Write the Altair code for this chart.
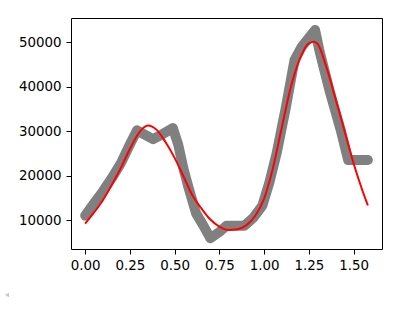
import altair as alt
import pandas as pd

# Gray (observed) path vertices
obs_x = [0.00, 0.05, 0.10, 0.15, 0.20, 0.25, 0.29, 0.33, 0.38, 0.43, 0.49, 0.52, 0.55,
         0.58, 0.62, 0.66, 0.70, 0.75, 0.79, 0.89, 0.94, 0.99, 1.03, 1.07, 1.12, 1.17,
         1.21, 1.24, 1.285, 1.31, 1.37, 1.43, 1.47, 1.58]
obs_y = [11000, 13800, 16500, 19500, 22800, 27000, 30200, 29300, 28200, 29300, 30700, 27000, 21500,
         17000, 11500, 8800, 5900, 7300, 8700, 8700, 10500, 13200, 18500, 25000, 35000, 46000,
         49000, 50500, 52800, 48000, 38500, 30000, 23500, 23500]

# Red (fitted) curve readings
fit_x = [0.00, 0.05, 0.10, 0.15, 0.20, 0.25, 0.30, 0.35, 0.40, 0.45, 0.50, 0.55, 0.60,
         0.65, 0.70, 0.75, 0.80, 0.85, 0.90, 0.95, 1.00, 1.05, 1.10, 1.15, 1.20, 1.25,
         1.28, 1.30, 1.35, 1.40, 1.45, 1.50, 1.55, 1.58]
fit_y = [9200, 11700, 14500, 18000, 21800, 26000, 29600, 31300, 30300, 27500, 24000, 19800, 15500,
         12600, 10100, 8500, 7750, 7900, 8800, 10900, 14800, 21800, 31000, 40000, 46300, 49800,
         50150, 49600, 44200, 37200, 30000, 22800, 16600, 13300]

x_ticks = [0.0, 0.25, 0.5, 0.75, 1.0, 1.25, 1.5]
y_ticks = [10000, 20000, 30000, 40000, 50000]

obs = pd.DataFrame({"x": obs_x, "y": obs_y})
fit = pd.DataFrame({"x": fit_x, "y": fit_y})

FONT = "DejaVu Sans"

xs = alt.Scale(domain=[-0.079, 1.659], nice=False, zero=False)
ys = alt.Scale(domain=[3470, 55500], nice=False, zero=False)

xax = alt.Axis(values=x_ticks, format=".2f", title=None, grid=False, domain=False,
               tickColor="black", tickSize=5, tickWidth=1, labelColor="black",
               labelFont=FONT, labelFontSize=13.4, labelPadding=4)
yax = alt.Axis(values=y_ticks, format="d", title=None, grid=False, domain=False,
               tickColor="black", tickSize=5, tickWidth=1, labelColor="black",
               labelFont=FONT, labelFontSize=13.4, labelPadding=5)

gray = alt.Chart(obs).mark_line(color="#808080", strokeWidth=10, strokeCap="round",
                                strokeJoin="round").encode(
    x=alt.X("x:Q", scale=xs, axis=xax),
    y=alt.Y("y:Q", scale=ys, axis=yax),
)

red = alt.Chart(fit).mark_line(color="#ff0000", strokeWidth=2, interpolate="monotone").encode(
    x=alt.X("x:Q", scale=xs),
    y=alt.Y("y:Q", scale=ys),
)

marker = alt.Chart(pd.DataFrame({"m": ["scroll"]})).mark_point(
    shape="triangle-left", filled=True, color="#c8c8c8", size=22, opacity=1
).encode(x=alt.value(-64), y=alt.value(277))

chart = alt.layer(gray, red, marker).properties(
    width=311, height=231,
    autosize=alt.AutoSizeParams(type="none"),
    padding={"left": 71, "top": 18, "right": 19, "bottom": 61},
    background="white",
).configure_view(stroke="black", strokeWidth=1)

chart.save("out.html", embed_options={"renderer": "svg", "actions": False})
